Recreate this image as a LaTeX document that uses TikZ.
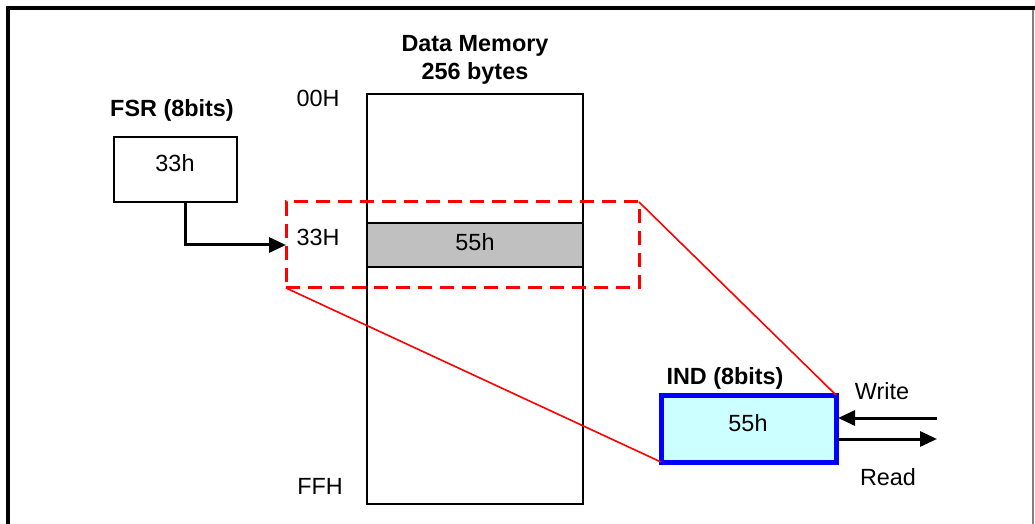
\documentclass[tikz,border=0pt]{standalone}
\usepackage{fontspec}
\setmainfont{Liberation Sans}
\usetikzlibrary{arrows.meta}
\definecolor{cellgray}{RGB}{192,192,192}
\definecolor{indfill}{RGB}{204,255,255}
\definecolor{indblue}{RGB}{0,0,255}
\begin{document}
\begin{tikzpicture}[x=0.5pt,y=-0.5pt,
  every node/.style={font=\fontsize{11.7}{14}\selectfont, inner sep=0pt, outer sep=0pt},
  box/.style={draw=black, line width=0.75pt, rectangle},
  lbl/.style={font=\fontsize{11.7}{14}\selectfont\bfseries},
  arr/.style={line width=1.5pt, -{Triangle[length=8.5pt,width=7.5pt]}},
  zoomline/.style={draw=red, line width=0.8pt}]
\useasboundingbox (0,0) rectangle (1035,524);
% frame
\draw[line width=1.8pt] (1035,8) -- (8,8) -- (8,524);
\draw[gray, line width=0.6pt] (1033,10) -- (1033,524);
% memory
\node[lbl, align=center] (title) at (475,60) {Data Memory\\256 bytes};
\node[box, minimum width=108pt, minimum height=205pt] (mem) at (475,299) {};
\node[box, fill=cellgray, minimum width=108pt, minimum height=22pt] (cell) at (475,245) {};
\node (cellval) at (475,242) {55h};
\node (a00) at (318,98) {00H};
\node (a33) at (318,237) {33H};
\node (aff) at (320,486) {FFH};
% FSR
\node[lbl] (fsrlbl) at (172,110) {FSR (8bits)};
\node[box, minimum width=61.5pt, minimum height=32.5pt] (fsr) at (175.5,169.5) {};
\node (fsrval) at (175,163) {33h};
% dashed zoom box
\node[draw=red, line width=1.5pt, dash pattern=on 7pt off 4pt, minimum width=176.5pt, minimum height=43pt] (dash) at (462.5,245) {};
\draw[arr] ([xshift=5pt]fsr.south) |- (dash.west);
% IND
\node[lbl] (indlbl) at (725,378) {IND (8bits)};
\node[draw=indblue, fill=indfill, line width=2.5pt, minimum width=87.5pt, minimum height=33.5pt] (ind) at (748.5,428.5) {};
\node (indval) at (748,423) {55h};
\draw[zoomline] (dash.north east) -- (ind.north east);
\draw[zoomline] (dash.south west) -- (ind.south west);
% read / write
\coordinate (wsrc) at (937,418);
\coordinate (rdst) at (937,439);
\draw[arr] (wsrc) -- ([xshift=1pt]ind.east |- wsrc);
\draw[arr] ([xshift=1pt]ind.east |- rdst) -- (rdst);
\node (write) at (882,391) {Write};
\node (read) at (888,477) {Read};
\end{tikzpicture}
\end{document}
